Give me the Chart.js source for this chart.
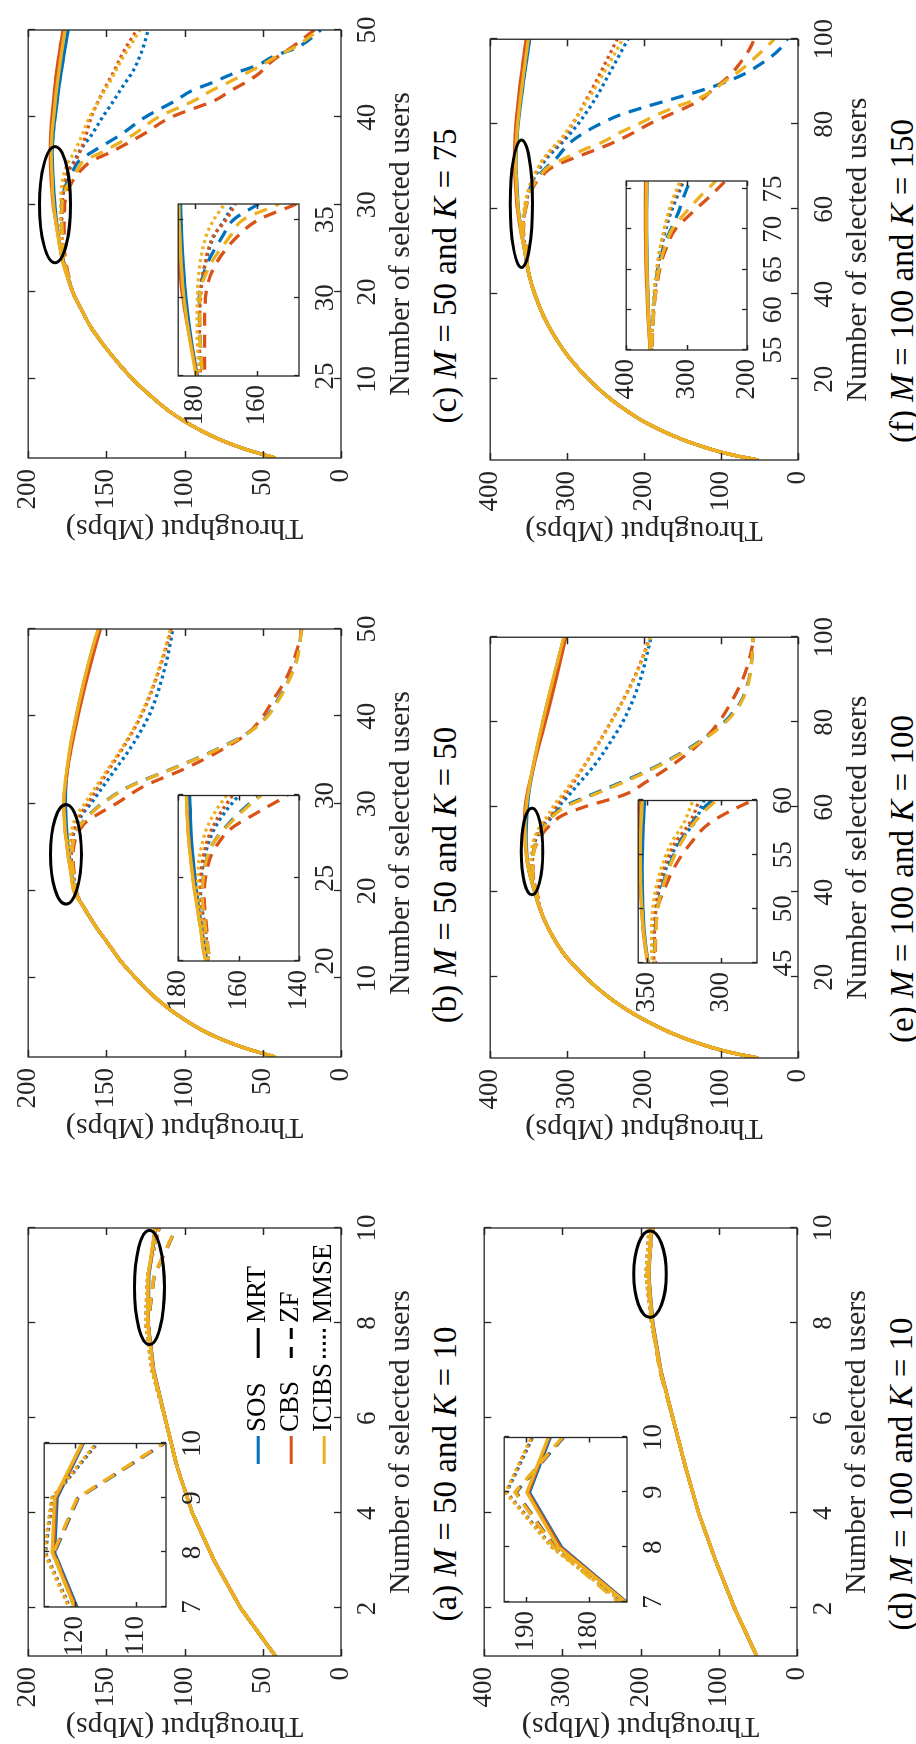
<!DOCTYPE html>
<html>
<head>
<meta charset="utf-8">
<title>Throughput vs number of selected users</title>
<script src="https://cdn.jsdelivr.net/npm/chart.js@4.4.1/dist/chart.umd.min.js"></script>
<style>
  html, body { margin: 0; padding: 0; background: #fff; }
  body { width: 916px; height: 1744px; overflow: hidden; position: relative; }
  /* the figure is laid out landscape and turned a quarter turn to the left */
  #fig { position: absolute; left: 0; top: 0; width: 1744px; height: 916px;
         transform-origin: 0 0; transform: translate(0, 1744px) rotate(-90deg); }
  #fig canvas { position: absolute; }
  .cap { position: absolute; font-family: 'Liberation Serif', 'Times New Roman', serif;
         font-size: 33px; color: #000; white-space: nowrap; transform: translate(-50%, -50%); }
</style>
</head>
<body>
<div id="fig"></div>
<script>
const SERIF = "'Liberation Serif', 'Times New Roman', serif";
const AXIS = '#262626';
const colors = { sos: '#0072BD', cbs: '#D95319', icibs: '#EDB120' };
const schemeNames = ['SOS', 'CBS', 'ICIBS'];
const precoderNames = ['MRT', 'ZF', 'MMSE'];

// ---------- tick labels ----------
const xTicks10 = [2, 4, 6, 8, 10];
const xTicks50 = [10, 20, 30, 40, 50];
const xTicks100 = [20, 40, 60, 80, 100];
const yTicks200 = [0, 50, 100, 150, 200];
const yTicks400 = [0, 100, 200, 300, 400];

// ---------- (a) M = 50, K = 10 ----------
const usersA = [1, 2, 3, 4, 5, 6, 7, 8, 9, 10];
const aSosMrt    = [42, 64, 81, 95, 105, 112.5, 119.6, 123.3, 122.9, 118.6];
const aSosZf     = [42, 64, 81, 95, 105, 112.5, 120.0, 123.3, 119.4, 105.3];
const aSosMmse   = [42, 64, 81, 95, 105, 112.5, 120.8, 124.8, 123.6, 116.3];
const aCbsMrt    = [42, 64, 81, 95, 105, 112.5, 119.8, 123.5, 123.1, 118.7];
const aCbsZf     = [42, 64, 81, 95, 105, 112.5, 120.0, 123.4, 119.5, 105.4];
const aCbsMmse   = [42, 64, 81, 95, 105, 112.5, 120.9, 124.9, 123.7, 116.4];
const aIcibsMrt  = [42, 64, 81, 95, 105, 112.5, 120.0, 123.7, 123.3, 118.8];
const aIcibsZf   = [42, 64, 81, 95, 105, 112.5, 120.1, 123.5, 119.6, 105.5];
const aIcibsMmse = [42, 64, 81, 95, 105, 112.5, 121.0, 125.0, 123.8, 116.5];

// ---------- (b) M = 50, K = 50 ----------
const usersB = [1, 2, 3, 4, 6, 8, 10, 12, 14, 16, 18, 20, 22, 24, 26, 27, 28, 29, 30, 32, 34, 36, 38, 40, 42, 44, 46, 48, 50];
const bRise = [42, 61, 76, 88, 106, 120, 131, 141, 149, 157, 164];
const bSosMrt    = [...bRise, 170.3, 172.2, 173.8, 175.0, 175.5, 175.8, 176.0, 176.2, 176.0, 175.0, 173.4, 171.4, 169.2, 166.8, 164.2, 161.4, 158.4, 155.0];
const bSosZf     = [...bRise, 169.3, 171.0, 172.0, 170.8, 168.8, 164.8, 159.5, 153.0, 135.0, 108.0, 82.0, 60.5, 47.5, 40.0, 33.8, 29.2, 26.6, 25.5];
const bSosMmse   = [...bRise, 169.8, 171.0, 172.6, 171.6, 170.2, 168.0, 164.5, 160.0, 152.0, 144.0, 136.0, 129.0, 123.0, 118.5, 115.0, 112.0, 109.5, 107.5];
const bCbsMrt    = [...bRise, 170.7, 172.5, 174.3, 175.7, 176.3, 176.7, 177.0, 177.2, 176.3, 174.8, 172.8, 170.6, 168.2, 165.6, 162.9, 160.0, 157.0, 153.8];
const bCbsZf     = [...bRise, 169.3, 170.6, 171.4, 169.8, 167.2, 162.5, 153.5, 143.8, 126.0, 100.0, 78.0, 60.0, 50.0, 43.0, 36.0, 31.0, 27.5, 25.0];
const bCbsMmse   = [...bRise, 169.8, 171.2, 172.8, 172.0, 170.8, 168.8, 165.8, 162.0, 155.0, 148.0, 140.8, 134.0, 128.0, 123.0, 118.8, 115.0, 111.6, 108.6];
const bIcibsMrt  = [...bRise, 170.8, 172.6, 174.4, 175.8, 176.4, 176.8, 177.1, 177.3, 176.6, 175.3, 173.6, 171.6, 169.4, 167.0, 164.4, 161.6, 158.6, 155.3];
const bIcibsZf   = [...bRise, 169.3, 171.0, 172.0, 170.8, 168.8, 164.5, 159.0, 152.5, 134.5, 107.5, 81.5, 60.0, 47.0, 39.5, 33.5, 29.0, 26.5, 25.4];
const bIcibsMmse = [...bRise, 169.8, 171.8, 173.6, 173.2, 172.2, 170.6, 167.8, 164.0, 156.5, 149.0, 141.5, 134.5, 128.5, 123.5, 119.2, 115.5, 112.0, 109.0];

// ---------- (c) M = 50, K = 75 ----------
const usersC = [1, 2, 3, 4, 6, 8, 10, 12, 14, 16, 18, 20, 22, 24, 26, 28, 30, 32, 34, 35, 36, 38, 40, 42, 43, 44, 45, 46, 47, 48, 50];
const cRise = [42, 61, 76, 88, 107, 121, 133, 143, 152, 160, 166, 171.5];
const cSosMrt    = [...cRise, 175.2, 178.2, 180.2, 181.8, 183.0, 183.8, 184.4, 184.6, 184.7, 184.0, 182.8, 181.4, 180.7, 179.9, 179.1, 178.2, 177.3, 176.4, 174.4];
const cSosZf     = [...cRise, 174.8, 177.3, 178.0, 178.5, 178.7, 176.5, 171.0, 167.6, 159.5, 141.0, 125.4, 105.0, 96.0, 82.0, 69.0, 53.0, 43.0, 28.0, 13.0];
const cSosMmse   = [...cRise, 174.9, 177.7, 178.6, 178.7, 178.5, 177.0, 173.8, 170.5, 167.6, 159.5, 152.5, 145.0, 141.5, 137.8, 134.0, 131.0, 128.5, 126.5, 123.3];
const cCbsMrt    = [...cRise, 175.3, 178.4, 180.4, 182.3, 184.0, 185.0, 185.6, 185.8, 186.0, 185.6, 184.8, 183.8, 183.2, 182.6, 182.0, 181.2, 180.4, 179.6, 177.6];
const cCbsZf     = [...cRise, 174.3, 176.4, 177.0, 177.0, 176.7, 173.8, 166.0, 159.5, 147.4, 127.0, 108.8, 80.0, 71.0, 61.0, 52.5, 47.0, 40.0, 31.7, 17.0];
const cCbsMmse   = [...cRise, 174.8, 177.6, 178.5, 178.6, 178.3, 177.0, 174.0, 170.0, 167.1, 163.0, 159.8, 154.8, 152.0, 149.0, 146.0, 143.2, 140.5, 137.5, 130.6];
const cIcibsMrt  = [...cRise, 175.5, 178.6, 180.6, 182.3, 183.7, 184.5, 185.0, 185.2, 185.3, 184.8, 183.8, 182.6, 182.0, 181.3, 180.6, 179.8, 179.0, 178.2, 176.5];
const cIcibsZf   = [...cRise, 174.8, 177.2, 178.0, 178.5, 178.5, 175.5, 168.5, 164.5, 153.0, 133.0, 117.0, 93.0, 83.5, 72.0, 61.0, 50.5, 41.0, 30.0, 14.0];
const cIcibsMmse = [...cRise, 175.0, 177.9, 179.0, 179.4, 179.3, 178.6, 176.4, 174.0, 170.6, 165.5, 160.8, 154.5, 151.5, 148.0, 145.0, 142.0, 139.0, 135.5, 128.5];

// ---------- (d) M = 100, K = 10 ----------
const usersD = [1, 2, 3, 4, 5, 6, 7, 8, 9, 10];
const dSosMrt    = [51.6, 79.8, 104, 125.6, 143, 158.8, 174.1, 184.4, 189.5, 186.2];
const dSosZf     = [51.6, 79.8, 104, 125.6, 143, 158.8, 175.2, 185.4, 191.6, 184.1];
const dSosMmse   = [51.6, 79.8, 104, 125.6, 143, 158.8, 174.6, 185.8, 193.1, 189.0];
const dCbsMrt    = [51.6, 79.8, 104, 125.6, 143, 158.8, 174.2, 184.6, 189.7, 186.4];
const dCbsZf     = [51.6, 79.8, 104, 125.6, 143, 158.8, 175.3, 185.5, 191.7, 184.2];
const dCbsMmse   = [51.6, 79.8, 104, 125.6, 143, 158.8, 174.7, 185.9, 193.2, 189.1];
const dIcibsMrt  = [51.6, 79.8, 104, 125.6, 143, 158.8, 174.3, 184.9, 189.9, 186.5];
const dIcibsZf   = [51.6, 79.8, 104, 125.6, 143, 158.8, 175.4, 185.6, 191.8, 184.3];
const dIcibsMmse = [51.6, 79.8, 104, 125.6, 143, 158.8, 174.8, 186.0, 193.3, 189.2];

// ---------- (e) M = 100, K = 100 ----------
const usersE = [1, 2, 3, 5, 7, 10, 13, 16, 20, 25, 30, 35, 40, 45, 48, 50, 52, 54, 56, 58, 60, 63, 66, 70, 75, 80, 85, 90, 95, 100];
const eRise = [52, 80, 103, 138, 166, 200, 228, 251, 276, 302, 320, 333];
const eSosMrt    = [...eRise, 342, 349.3, 352.0, 352.8, 353.2, 353.3, 353.0, 352.5, 351.8, 350.0, 347.5, 343.5, 337.8, 331.5, 325.0, 318.0, 311.0, 304.0];
const eSosZf     = [...eRise, 339.5, 345.2, 344.5, 343.2, 340.0, 335.0, 328.5, 319.5, 306.3, 268.0, 228.0, 180.0, 132.0, 96.0, 74.0, 64.0, 60.0, 58.5];
const eSosMmse   = [...eRise, 339.8, 346.0, 345.5, 344.0, 341.5, 336.5, 329.5, 317.9, 311.6, 297.0, 283.0, 264.0, 245.0, 228.0, 215.0, 205.0, 197.5, 191.0];
const eCbsMrt    = [...eRise, 342, 349.5, 352.6, 353.8, 354.6, 355.2, 355.4, 355.2, 354.5, 352.0, 348.5, 343.0, 336.0, 328.5, 321.5, 314.5, 308.0, 302.0];
const eCbsZf     = [...eRise, 339.3, 344.5, 344.0, 343.0, 337.8, 331.0, 321.0, 307.0, 279.0, 225.0, 197.0, 163.0, 128.0, 103.0, 86.0, 72.0, 63.0, 57.0];
const eCbsMmse   = [...eRise, 339.5, 345.5, 345.0, 344.2, 342.4, 338.0, 331.5, 321.0, 314.7, 302.5, 291.0, 277.0, 259.5, 243.5, 228.0, 214.0, 202.5, 192.5];
const eIcibsMrt  = [...eRise, 342, 349.5, 352.5, 353.6, 354.2, 354.6, 354.5, 354.0, 353.2, 351.0, 348.2, 344.0, 338.2, 332.0, 325.5, 318.5, 311.5, 304.5];
const eIcibsZf   = [...eRise, 339.5, 345.2, 344.0, 343.0, 339.5, 334.5, 327.5, 318.0, 303.0, 265.0, 225.0, 178.0, 130.0, 94.0, 73.0, 63.5, 60.0, 58.5];
const eIcibsMmse = [...eRise, 340.0, 346.5, 347.0, 346.2, 344.0, 339.8, 334.0, 325.0, 318.9, 306.0, 293.5, 277.0, 259.0, 243.0, 227.5, 213.5, 202.0, 192.0];

// ---------- (f) M = 100, K = 150 ----------
const usersF = [1, 2, 3, 5, 7, 10, 13, 16, 20, 25, 30, 35, 40, 45, 50, 55, 58, 60, 63, 66, 68, 70, 72, 74, 76, 78, 80, 82, 84, 86, 88, 90, 92, 94, 96, 98, 100];
const fRise = [52, 80, 103, 138, 166, 200, 226, 248, 272, 297, 316, 331, 342, 350];
const fSosMrt    = [...fRise, 354.8, 359.5, 362, 363.3, 364.5, 365.5, 366, 366.2, 366.2, 366, 365.5, 364.6, 363.6, 362.4, 361.1, 359.7, 358.3, 356.8, 355.2, 353.6, 352, 350.4, 348.8];
const fSosZf     = [...fRise, 352.5, 357.5, 356, 354.5, 351, 345.5, 337, 326, 314, 305, 294, 278, 258, 234, 200, 162, 125, 93, 68, 50, 34, 22, 14];
const fSosMmse   = [...fRise, 353, 358, 356.5, 355, 351.5, 346, 341, 334.5, 326.5, 316, 305, 295, 286, 278, 270.5, 263.5, 257, 251, 245, 239, 233, 227, 221];
const fCbsMrt    = [...fRise, 355, 360.5, 363, 364.5, 366, 367.2, 367.8, 368.2, 368.4, 368.3, 368, 367.3, 366.5, 365.5, 364.4, 363.2, 362, 360.7, 359.3, 357.8, 356.3, 354.8, 353.3];
const fCbsZf     = [...fRise, 352, 357, 355.5, 354, 349.5, 341.5, 332, 318.6, 292, 262.8, 236, 214, 194, 170, 145, 124, 112, 98, 86, 77, 69, 62, 57];
const fCbsMmse   = [...fRise, 353, 358, 356.5, 355.2, 352, 347, 342.5, 336.5, 329, 319.5, 308, 300, 293, 286.5, 280.5, 274.5, 268.5, 262.5, 257, 251.5, 246, 240.5, 235];
const fIcibsMrt  = [...fRise, 355, 360, 362.5, 363.8, 365, 366, 366.5, 366.8, 366.8, 366.5, 366, 365.2, 364.3, 363.2, 362, 360.7, 359.4, 358, 356.5, 355, 353.5, 352, 350.5];
const fIcibsZf   = [...fRise, 352.5, 357.5, 356, 354.5, 350.5, 343, 335, 324, 302.7, 278.7, 252, 232, 208, 186, 160, 130, 110, 96, 80, 66, 54, 42, 31];
const fIcibsMmse = [...fRise, 353.5, 358.5, 357.2, 356, 352.8, 347.8, 343, 337, 330.5, 321.5, 310.6, 302, 294, 286.5, 279.5, 272.5, 265.5, 259, 252.5, 246, 240, 234, 228];

// ---------- zoom windows and ellipses (data units) ----------
const insetA = { x: [7, 10], y: [105, 125], xt: [7, 8, 9, 10], yt: [110, 120] };
const insetB = { x: [20, 30], y: [140, 180], xt: [20, 25, 30], yt: [140, 160, 180] };
const insetC = { x: [25, 36], y: [146.5, 185.5], xt: [25, 30, 35], yt: [160, 180] };
const insetD = { x: [7, 10], y: [174, 193.5], xt: [7, 8, 9, 10], yt: [180, 190] };
const insetE = { x: [45, 60], y: [276, 356], xt: [45, 50, 55, 60], yt: [300, 350] };
const insetF = { x: [55, 76], y: [200, 400], xt: [55, 60, 65, 70, 75], yt: [200, 300, 400] };
// centre x, centre y, half width, half height
const ellipseA = [8.75, 122.5, 1.2, 9.6];
const ellipseB = [24.2, 175.9, 5.7, 9.9];
const ellipseC = [30.0, 182.8, 6.65, 9.9];
const ellipseD = [9.03, 188.0, 0.91, 20.8];
const ellipseE = [49.6, 345.7, 10.2, 14.1];
const ellipseF = [61.3, 359.4, 15.0, 14.4];

const panels = [
  { tag: 'a', M: 50, K: 10, users: usersA, xr: [1, 10], xt: xTicks10, yr: [0, 200], yt: yTicks200, smooth: false,
    sos: [aSosMrt, aSosZf, aSosMmse], cbs: [aCbsMrt, aCbsZf, aCbsMmse], icibs: [aIcibsMrt, aIcibsZf, aIcibsMmse],
    inset: insetA, ellipse: ellipseA, key: true },
  { tag: 'b', M: 50, K: 50, users: usersB, xr: [1, 50], xt: xTicks50, yr: [0, 200], yt: yTicks200, smooth: true,
    sos: [bSosMrt, bSosZf, bSosMmse], cbs: [bCbsMrt, bCbsZf, bCbsMmse], icibs: [bIcibsMrt, bIcibsZf, bIcibsMmse],
    inset: insetB, ellipse: ellipseB },
  { tag: 'c', M: 50, K: 75, users: usersC, xr: [1, 50], xt: xTicks50, yr: [0, 200], yt: yTicks200, smooth: true,
    sos: [cSosMrt, cSosZf, cSosMmse], cbs: [cCbsMrt, cCbsZf, cCbsMmse], icibs: [cIcibsMrt, cIcibsZf, cIcibsMmse],
    inset: insetC, ellipse: ellipseC },
  { tag: 'd', M: 100, K: 10, users: usersD, xr: [1, 10], xt: xTicks10, yr: [0, 400], yt: yTicks400, smooth: false,
    sos: [dSosMrt, dSosZf, dSosMmse], cbs: [dCbsMrt, dCbsZf, dCbsMmse], icibs: [dIcibsMrt, dIcibsZf, dIcibsMmse],
    inset: insetD, ellipse: ellipseD },
  { tag: 'e', M: 100, K: 100, users: usersE, xr: [1, 100], xt: xTicks100, yr: [0, 400], yt: yTicks400, smooth: true,
    sos: [eSosMrt, eSosZf, eSosMmse], cbs: [eCbsMrt, eCbsZf, eCbsMmse], icibs: [eIcibsMrt, eIcibsZf, eIcibsMmse],
    inset: insetE, ellipse: ellipseE },
  { tag: 'f', M: 100, K: 150, users: usersF, xr: [1, 100], xt: xTicks100, yr: [0, 400], yt: yTicks400, smooth: true,
    sos: [fSosMrt, fSosZf, fSosMmse], cbs: [fCbsMrt, fCbsZf, fCbsMmse], icibs: [fIcibsMrt, fIcibsZf, fIcibsMmse],
    inset: insetF, ellipse: ellipseF },
];

// ---------- layout, in the unrotated 1744 x 916 figure: [left, top, right, bottom] of plot areas ----------
const layout = {
  a: { area: [88, 21, 516, 341], inset: [137, 37, 307, 166] },
  b: { area: [687, 21, 1115, 341], inset: [783, 171, 955, 299] },
  c: { area: [1286, 21, 1714, 341], inset: [1368, 171, 1540, 299] },
  d: { area: [88, 477, 516, 797], inset: [142, 497, 313, 627] },
  e: { area: [686, 483, 1108, 798], inset: [781, 631, 950, 757] },
  f: { area: [1284, 483, 1706, 798], inset: [1394, 619, 1563, 747] },
};

// ---------- plugins ----------
const boxTicks = {
  id: 'boxTicks',
  afterDatasetsDraw(chart, args, o) {
    const { ctx, chartArea: a, scales: { x, y } } = chart;
    const len = o.len || 7;
    ctx.save();
    ctx.strokeStyle = AXIS;
    ctx.lineWidth = 1.3;
    ctx.beginPath();
    x.ticks.forEach(t => {
      const px = Math.round(x.getPixelForValue(t.value)) + 0.5;
      ctx.moveTo(px, a.bottom); ctx.lineTo(px, a.bottom - len);
      ctx.moveTo(px, a.top); ctx.lineTo(px, a.top + len);
    });
    y.ticks.forEach(t => {
      const py = Math.round(y.getPixelForValue(t.value)) + 0.5;
      ctx.moveTo(a.left, py); ctx.lineTo(a.left + len, py);
      ctx.moveTo(a.right, py); ctx.lineTo(a.right - len, py);
    });
    ctx.stroke();
    ctx.strokeRect(a.left, a.top, a.right - a.left, a.bottom - a.top);
    ctx.restore();
  }
};

const ellipsePlugin = {
  id: 'ellipse',
  afterDatasetsDraw(chart, args, o) {
    if (!o.e) return;
    const { ctx, scales: { x, y } } = chart;
    const [cx, cy, hw, hh] = o.e;
    const px = x.getPixelForValue(cx), py = y.getPixelForValue(cy);
    const rx = Math.abs(x.getPixelForValue(cx + hw) - px);
    const ry = Math.abs(y.getPixelForValue(cy + hh) - py);
    ctx.save();
    ctx.strokeStyle = '#000';
    ctx.lineWidth = 3;
    ctx.beginPath();
    ctx.ellipse(px, py, rx, ry, 0, 0, Math.PI * 2);
    ctx.stroke();
    ctx.restore();
  }
};

const whiteArea = {
  id: 'whiteArea',
  beforeDatasetsDraw(chart) {
    const { ctx, chartArea: a } = chart;
    ctx.save();
    ctx.fillStyle = '#fff';
    ctx.fillRect(a.left, a.top, a.right - a.left, a.bottom - a.top);
    ctx.restore();
  }
};

const keyPlugin = {
  id: 'key',
  afterDatasetsDraw(chart, args, o) {
    if (!o.on) return;
    const { ctx, chartArea: a } = chart;
    const rows = [a.top + 230, a.top + 263, a.top + 296];
    const dashes = [[], [11, 8], [3, 3.5]];
    const keys = ['sos', 'cbs', 'icibs'];
    ctx.save();
    ctx.font = '27px ' + SERIF;
    ctx.textBaseline = 'middle';
    ctx.fillStyle = '#000';
    ctx.lineWidth = 3;
    rows.forEach((ry, i) => {
      ctx.setLineDash([]);
      ctx.strokeStyle = colors[keys[i]];
      ctx.beginPath(); ctx.moveTo(a.left + 192, ry); ctx.lineTo(a.left + 220, ry); ctx.stroke();
      ctx.fillText(schemeNames[i], a.left + 224, ry);
      ctx.setLineDash(dashes[i]);
      ctx.strokeStyle = '#000';
      ctx.beginPath(); ctx.moveTo(a.left + 298, ry); ctx.lineTo(a.left + 328, ry); ctx.stroke();
      ctx.fillText(precoderNames[i], a.left + 333, ry);
    });
    ctx.restore();
  }
};

// ---------- builders ----------
const fig = document.getElementById('fig');

function addCanvas(left, top, w, h) {
  const c = document.createElement('canvas');
  c.width = w; c.height = h;
  c.style.left = left + 'px'; c.style.top = top + 'px';
  c.style.width = w + 'px'; c.style.height = h + 'px';
  fig.appendChild(c);
  return c;
}

function lineSets(p) {
  const out = [];
  ['icibs', 'cbs', 'sos'].forEach(k => {
    p[k].forEach((vals, j) => {
      out.push({
        data: p.users.map((u, i) => ({ x: u, y: vals[i] })),
        borderColor: colors[k],
        borderWidth: 3.3,
        borderDash: j === 1 ? [13, 9] : j === 2 ? [3, 3.5] : [],
        pointRadius: 0,
        fill: false,
        cubicInterpolationMode: p.smooth ? 'monotone' : 'default',
        tension: 0
      });
    });
  });
  return out;
}

function axis(range, ticks, o) {
  return {
    type: 'linear', min: range[0], max: range[1],
    afterBuildTicks: s => { s.ticks = ticks.map(v => ({ value: v })); },
    afterFit: s => { if (o.w != null) s.width = o.w; if (o.h != null) s.height = o.h; },
    grid: { display: false, drawTicks: false },
    border: { display: false },
    ticks: { font: { family: SERIF, size: 27 }, color: AXIS, padding: o.pad,
             maxRotation: 0, minRotation: 0, autoSkip: false, callback: v => String(v) },
    title: o.title ? { display: true, text: o.title, color: AXIS,
                       font: { family: SERIF, size: 30 }, padding: { top: 0, bottom: 2 } }
                   : { display: false }
  };
}

panels.forEach(p => {
  const L = layout[p.tag];
  const [X0, Y0, X1, Y1] = L.area;
  const main = addCanvas(X0 - 88, Y0 - 20, X1 - X0 + 118, Y1 - Y0 + 100);
  new Chart(main, {
    type: 'line',
    data: { datasets: lineSets(p) },
    options: {
      responsive: false, animation: false, events: [],
      layout: { padding: { left: 0, top: 20, right: 30, bottom: 0 } },
      plugins: { legend: { display: false }, tooltip: { enabled: false },
                 boxTicks: { len: 7 }, ellipse: { e: p.ellipse }, key: { on: !!p.key } },
      scales: {
        x: axis(p.xr, p.xt, { h: 80, pad: 11, title: 'Number of selected users' }),
        y: axis(p.yr, p.yt, { w: 88, pad: 11, title: 'Throughput (Mbps)' })
      }
    },
    plugins: [boxTicks, ellipsePlugin, keyPlugin]
  });

  const [x0, y0, x1, y1] = L.inset;
  const ins = addCanvas(x0 - 55, y0 - 18, x1 - x0 + 73, y1 - y0 + 63);
  new Chart(ins, {
    type: 'line',
    data: { datasets: lineSets(p) },
    options: {
      responsive: false, animation: false, events: [],
      layout: { padding: { left: 0, top: 18, right: 18, bottom: 0 } },
      plugins: { legend: { display: false }, tooltip: { enabled: false }, boxTicks: { len: 5 } },
      scales: {
        x: axis(p.inset.x, p.inset.xt, { h: 45, pad: 11 }),
        y: axis(p.inset.y, p.inset.yt, { w: 55, pad: 9 })
      }
    },
    plugins: [whiteArea, boxTicks]
  });

  const cap = document.createElement('div');
  cap.className = 'cap';
  cap.innerHTML = '(' + p.tag + ') <i>M</i> = ' + p.M + ' and <i>K</i> = ' + p.K;
  cap.style.left = ((X0 + X1) / 2 - 32) + 'px';
  cap.style.top = (Y1 + 104) + 'px';
  fig.appendChild(cap);
});
</script>
</body>
</html>
